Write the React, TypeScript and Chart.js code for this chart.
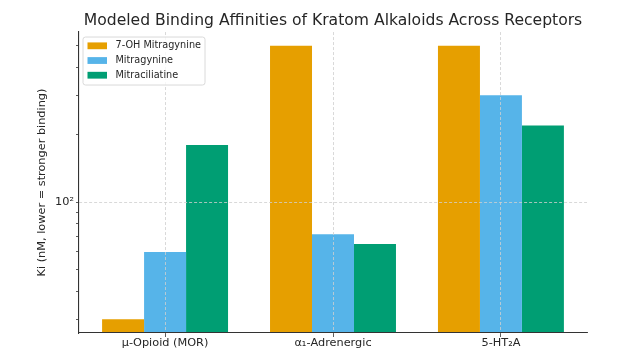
import React, { useEffect, useRef } from "react";
import { Chart, registerables } from "chart.js";

Chart.register(...registerables);

// ---- data ----
const categories = ["μ-Opioid (MOR)", "α₁-Adrenergic", "5-HT₂A"];
const seriesNames = ["7-OH Mitragynine", "Mitragynine", "Mitraciliatine"];
const sevenOHMitragynine = [30, 500, 500];
const mitragynine = [60, 72, 300];
const mitraciliatine = [180, 65, 220];
const yTickValues = [30, 40, 50, 60, 70, 80, 90, 100, 200, 300, 400, 500];
const yMajorValue = 100;
const yMajorLabel = "10²";
const yMin = 26.06;
const yMax = 575.4;
const xMin = -0.5125;
const xMax = 2.5125;

const seriesValues = [sevenOHMitragynine, mitragynine, mitraciliatine];
const seriesColors = ["#E69F00", "#56B4E9", "#009E73"];

const FONT = "'DejaVu Sans', 'Noto Sans', sans-serif";
const TEXT = "#262626";

const insideLegend = {
  id: "insideLegend",
  afterDraw(chart: any) {
    const ctx = chart.ctx;
    const area = chart.chartArea;
    const x0 = area.left + 4;
    const y0 = area.top + 5;
    const w = 122;
    const h = 48;
    ctx.save();
    ctx.beginPath();
    const r = 2.5;
    ctx.moveTo(x0 + r, y0);
    ctx.lineTo(x0 + w - r, y0);
    ctx.quadraticCurveTo(x0 + w, y0, x0 + w, y0 + r);
    ctx.lineTo(x0 + w, y0 + h - r);
    ctx.quadraticCurveTo(x0 + w, y0 + h, x0 + w - r, y0 + h);
    ctx.lineTo(x0 + r, y0 + h);
    ctx.quadraticCurveTo(x0, y0 + h, x0, y0 + h - r);
    ctx.lineTo(x0, y0 + r);
    ctx.quadraticCurveTo(x0, y0, x0 + r, y0);
    ctx.closePath();
    ctx.fillStyle = "rgba(255,255,255,0.8)";
    ctx.fill();
    ctx.lineWidth = 0.8;
    ctx.strokeStyle = "rgba(204,204,204,0.9)";
    ctx.stroke();
    ctx.font = `9.7px ${FONT}`;
    ctx.textBaseline = "middle";
    ctx.textAlign = "left";
    chart.data.datasets.forEach((ds: any, i: number) => {
      const cy = y0 + 8.7 + i * 14.7;
      ctx.fillStyle = ds.backgroundColor;
      ctx.fillRect(x0 + 4.5, cy - 3.3, 19.5, 6.8);
      ctx.fillStyle = TEXT;
      ctx.fillText(ds.label, x0 + 32.5, cy);
    });
    ctx.restore();
  },
};

export default function App() {
  const ref = useRef<HTMLCanvasElement | null>(null);

  useEffect(() => {
    if (!ref.current) return;
    const chart = new Chart(ref.current, {
      type: "bar",
      data: {
        datasets: seriesNames.map((name, s) => ({
          label: name,
          data: seriesValues[s].map((v, i) => ({ x: i, y: v })),
          backgroundColor: seriesColors[s],
          borderWidth: 0,
          categoryPercentage: 0.75,
          barPercentage: 1,
        })),
      },
      options: {
        animation: false,
        responsive: true,
        maintainAspectRatio: false,
        layout: { padding: { left: 0, right: 41, top: 0, bottom: 0 } },
        plugins: {
          legend: { display: false },
          tooltip: { enabled: false },
          title: {
            display: true,
            fullSize: false,
            text: "Modeled Binding Affinities of Kratom Alkaloids Across Receptors",
            color: TEXT,
            font: { family: FONT, size: 15.6, weight: "normal" },
            padding: { top: 11.4, bottom: 1.9 },
          },
        },
        scales: {
          x: {
            type: "linear",
            offset: false,
            min: xMin,
            max: xMax,
            afterBuildTicks: (scale: any) => {
              scale.ticks = categories.map((_, i) => ({ value: i }));
            },
            afterFit: (scale: any) => {
              scale.height = 20;
            },
            ticks: {
              autoSkip: false,
              maxRotation: 0,
              padding: -1,
              color: TEXT,
              font: { family: FONT, size: 11.3 },
              callback: (v: any) => categories[v] ?? "",
            },
            grid: {
              z: 1,
              offset: false,
              color: "#cfcfcf",
              lineWidth: 0.8,
              tickColor: "#333",
              tickLength: 4,
              tickWidth: 0.8,
            },
            border: { z: 1, color: "#333", width: 1.1, dash: [3, 2] },
          },
          y: {
            type: "logarithmic",
            min: yMin,
            max: yMax,
            afterBuildTicks: (scale: any) => {
              scale.ticks = yTickValues.map((v) => ({ value: v, major: false }));
            },
            afterFit: (scale: any) => {
              scale.width = 79;
            },
            ticks: {
              autoSkip: false,
              padding: 2,
              color: TEXT,
              font: { family: FONT, size: 11.3 },
              callback: (v: any) => (v === yMajorValue ? yMajorLabel : ""),
            },
            grid: {
              z: 1,
              color: (c: any) => (c.tick && c.tick.value === yMajorValue ? "#cfcfcf" : "rgba(0,0,0,0)"),
              lineWidth: 0.8,
              tickColor: "#333",
              tickLength: 3,
              tickWidth: 0.8,
            },
            border: { z: 1, color: "#333", width: 1.1, dash: [3, 2] },
            title: {
              display: true,
              text: "Ki (nM, lower = stronger binding)",
              color: TEXT,
              font: { family: FONT, size: 11.3 },
              padding: { top: 35, bottom: 0 },
            },
          },
        },
      },
      plugins: [insideLegend],
    });
    return () => chart.destroy();
  }, []);

  return (
    <div style={{ position: "fixed", left: 0, top: 0, width: 628, height: 353, background: "#fff" }}>
      <canvas ref={ref} />
    </div>
  );
}
